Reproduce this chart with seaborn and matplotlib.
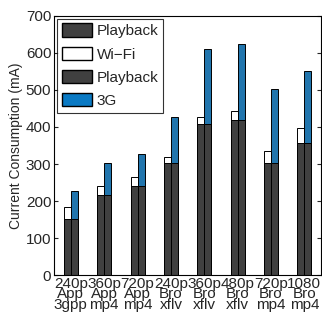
import pandas as pd
import matplotlib
matplotlib.use("Agg")
import matplotlib.pyplot as plt
import seaborn as sns
from matplotlib.patches import Patch

# values
categories = ["240p\nApp\n3gpp", "360p\nApp\nmp4", "720p\nApp\nmp4", "240p\nBro\nxflv",
              "360p\nBro\nxflv", "480p\nBro\nxflv", "720p\nBro\nmp4", "1080\nBro\nmp4"]
playback = [152, 216, 240, 304, 407, 418, 304, 358]
wifi_total = [183, 242, 266, 318, 426, 442, 334, 396]
g3_total = [226, 302, 327, 426, 611, 623, 502, 551]

dark = "#404040"
blue = "#0a7ac4"

sns.set_style("ticks")
plt.rcParams["font.family"] = ["Liberation Sans", "DejaVu Sans"]

rows = []
for c, p, w, g in zip(categories, playback, wifi_total, g3_total):
    rows.append({"cat": c, "net": "Wi-Fi", "total": w, "playback": p})
    rows.append({"cat": c, "net": "3G", "total": g, "playback": p})
df = pd.DataFrame(rows)

fig = plt.figure(figsize=(3.22, 3.16), dpi=100)
ax = fig.add_axes([0.168, 0.129, 0.829, 0.821])

sns.barplot(data=df, x="cat", y="total", hue="net", order=categories,
            hue_order=["Wi-Fi", "3G"], palette={"Wi-Fi": "white", "3G": blue},
            width=0.42, edgecolor="black", linewidth=0.7, legend=False, ax=ax)
sns.barplot(data=df, x="cat", y="playback", hue="net", order=categories,
            hue_order=["Wi-Fi", "3G"], palette={"Wi-Fi": dark, "3G": dark},
            width=0.42, edgecolor="black", linewidth=0.7, legend=False, ax=ax)

ax.set_xlim(-0.5, 7.5)
ax.set_ylim(0, 700)
ax.set_yticks(range(0, 701, 100))
ax.set_xlabel("")
ax.set_ylabel("Current Consumption (mA)", fontsize=10, labelpad=2)
ax.tick_params(axis="y", direction="in", right=True, labelsize=11, length=3, pad=2)
ax.tick_params(axis="x", length=0, labelsize=11, pad=1)
for lab in ax.get_xticklabels():
    lab.set_linespacing(0.7)
for s in ax.spines.values():
    s.set_visible(True)
    s.set_linewidth(0.8)
    s.set_color("black")

handles = [Patch(facecolor=dark, edgecolor="black", label="Playback"),
           Patch(facecolor="white", edgecolor="black", label="Wi\u2212Fi"),
           Patch(facecolor=dark, edgecolor="black", label="Playback"),
           Patch(facecolor=blue, edgecolor="black", label="3G")]
leg = ax.legend(handles=handles, loc="upper left", fontsize=11, frameon=True,
                fancybox=False, edgecolor="black", handlelength=2.0,
                handleheight=0.95, labelspacing=0.55, handletextpad=0.3,
                borderaxespad=0.2, borderpad=0.3)
leg.get_frame().set_linewidth(0.8)

fig.savefig("out.png", dpi=100)
